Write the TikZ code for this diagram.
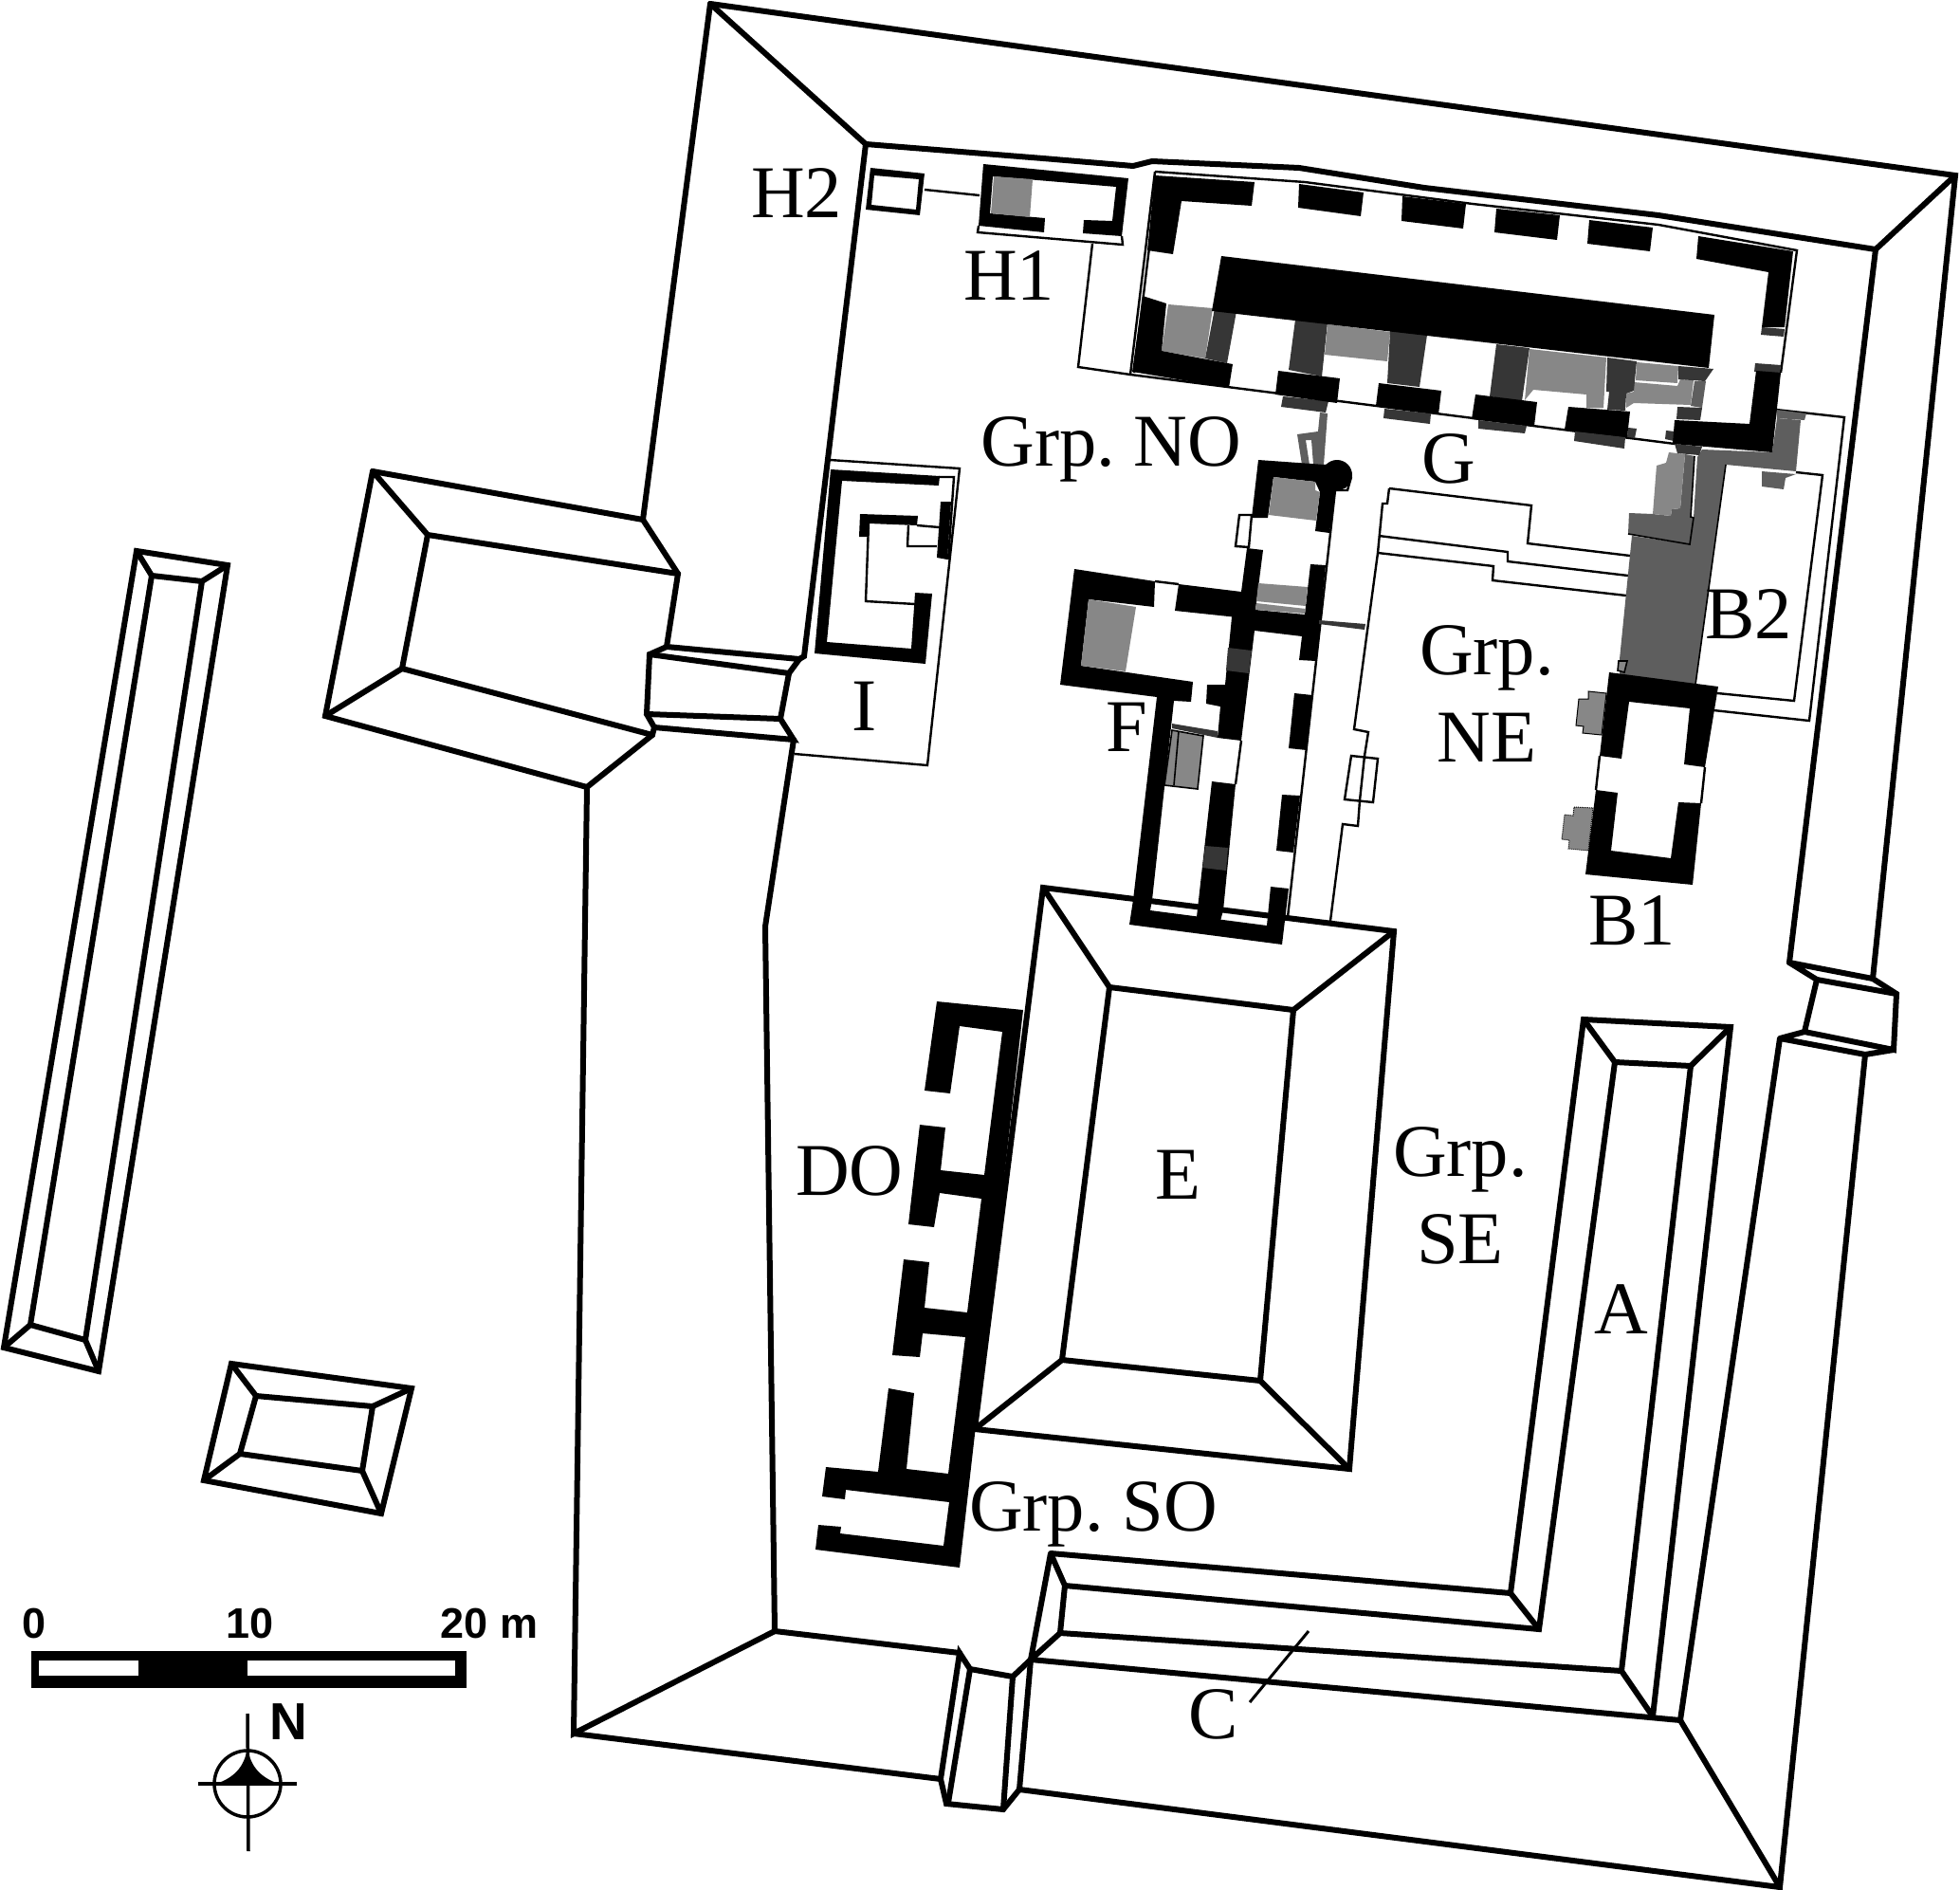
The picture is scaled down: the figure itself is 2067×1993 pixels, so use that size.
\documentclass[tikz,border=0pt]{standalone}
\usepackage{fontspec}
\setmainfont{Liberation Serif}
\newfontfamily\barfont{Liberation Sans}
\frenchspacing
\definecolor{gl}{gray}{0.53}
\definecolor{gm}{gray}{0.37}
\definecolor{gd}{gray}{0.21}
\tikzset{
  wall/.style={line width=6pt,line join=miter,miter limit=3,line cap=round},
  thin/.style={line width=2.4pt,line join=miter},
  blk/.style={fill=black,draw=none},
  lite/.style={fill=gl,draw=none},
  med/.style={fill=gm,draw=none},
  dark/.style={fill=gd,draw=none},
  lab/.style={font=\fontsize{78.5}{92}\selectfont,align=center,inner sep=0pt},
  scalelab/.style={font=\barfont\bfseries\fontsize{45}{45}\selectfont,inner sep=0pt}
}
\begin{document}
\begin{tikzpicture}[x=1pt,y=-1pt]
\useasboundingbox (0,0) rectangle (2067,1993);
\fill[white] (0,0) rectangle (2067,1993);

% ---------- enclosure walls
\draw[wall] (749,4) -- (2062,185) -- (1975,1032);
\draw[wall] (749,4) -- (678,548);
\draw[wall] (2062,185) -- (1978,263);
\draw[wall] (749,4) -- (913,152);
% inner north wall
\draw[wall] (913,152) -- (1100,167) -- (1195,175) -- (1215,170) -- (1370,177) -- (1502,198) -- (1749,227) -- (1978,263) -- (1887,1015);
% west side
\draw[wall] (913,152) -- (848,692) -- (843,695);
\draw[wall] (619,830) -- (605,1828) -- (817,1720) -- (807,977) -- (837,780);
\draw[wall] (817,1720) -- (1012,1743);
\draw[wall] (605,1828) -- (992,1876);
% west gate
\draw[wall] (678,548) -- (715,605) -- (703,682) -- (685,690) -- (682,753) -- (690,767) -- (688,775) -- (619,830);
\draw[wall] (703,682) -- (843,695) -- (832,710) -- (685,690);
\draw[wall] (832,710) -- (823,758) -- (682,753);
\draw[wall] (823,758) -- (837,780) -- (690,767);
% west building
\draw[wall] (393,497) -- (678,548);
\draw[wall] (451,564) -- (715,605);
\draw[wall] (393,497) -- (451,564) -- (424,705) -- (688,775);
\draw[wall] (393,497) -- (343,755) -- (619,830);
\draw[wall] (343,755) -- (424,705);
% east gate
\draw[wall] (1887,1015) -- (1975,1032) -- (2000,1048) -- (1997,1107) -- (1903,1088) -- (1916,1033) -- (1887,1015);
\draw[wall] (1916,1033) -- (2000,1048);
\draw[wall] (1903,1088) -- (1877,1095) -- (1967,1112) -- (1997,1107);
% south and east
\draw[wall] (1967,1112) -- (1877,1990) -- (1075,1887) -- (1058,1908) -- (998,1902) -- (992,1876) -- (1012,1743) -- (1023,1760) -- (1068,1768) -- (1087,1750) -- (1772,1814) -- (1877,1990);
\draw[wall] (1877,1095) -- (1772,1814);
% south gate
\draw[wall] (1023,1760) -- (1000,1901);
\draw[wall] (1068,1768) -- (1058,1908);
\draw[wall] (1087,1750) -- (1075,1887);
% A / C
\draw[wall] (1108,1638) -- (1593,1680) -- (1670,1075) -- (1825,1083) -- (1743,1810);
\draw[wall] (1123,1672) -- (1623,1718) -- (1703,1120) -- (1783,1124) -- (1710,1762) -- (1118,1722) -- (1123,1672) -- (1108,1638) -- (1087,1750) -- (1118,1722);
\draw[wall] (1670,1075) -- (1703,1120);
\draw[wall] (1825,1083) -- (1783,1124);
\draw[wall] (1593,1680) -- (1623,1718);
\draw[wall] (1710,1762) -- (1743,1810);
% E
\draw[wall] (1100,936) -- (1470,982) -- (1423,1549) -- (1028,1507) -- cycle;
\draw[wall] (1170,1041) -- (1364,1065) -- (1329,1456) -- (1120,1434) -- cycle;
\draw[wall] (1100,936) -- (1170,1041);
\draw[wall] (1470,982) -- (1364,1065);
\draw[wall] (1423,1549) -- (1329,1456);
\draw[wall] (1028,1507) -- (1120,1434);
% western detached buildings
\draw[wall] (144,581) -- (240,596) -- (104,1446) -- (4,1421) -- cycle;
\draw[wall] (160,607) -- (213,613) -- (90,1413) -- (32,1397) -- cycle;
\draw[wall] (144,581) -- (160,607);
\draw[wall] (240,596) -- (213,613);
\draw[wall] (104,1446) -- (90,1413);
\draw[wall] (4,1421) -- (32,1397);
\draw[wall] (244,1438) -- (434,1464) -- (402,1596) -- (215,1561) -- cycle;
\draw[wall] (270,1472) -- (393,1483) -- (382,1551) -- (253,1533) -- cycle;
\draw[wall] (244,1438) -- (270,1472);
\draw[wall] (434,1464) -- (393,1483);
\draw[wall] (402,1596) -- (382,1551);
\draw[wall] (215,1561) -- (253,1533);

% ---------- thin precinct lines
\draw[thin] (1218,181) -- (1376,192) -- (1553,215) -- (1749,237) -- (1895,264) -- (1878,393);
\draw[thin] (1221,187) -- (1196,393);
\draw[thin] (1218,181) -- (1192,395) -- (1766,468);
\draw[thin] (1152,257) -- (1137,387) -- (1192,395);
\draw[thin] (975,200) -- (1033,206);
\draw[thin] (1032,238) -- (1031,245) -- (1184,258) -- (1183,249);
\draw[thin] (1873,432) -- (1945,440) -- (1908,760) -- (1807,749);
\draw[thin] (1894,498) -- (1922,501) -- (1892,739) -- (1811,731);
\draw[thin] (1465,515) -- (1615,533) -- (1611,573) -- (1719,586);
\draw[thin] (1465,515) -- (1463,531) -- (1458,531) -- (1453,583) -- (1428,769) -- (1443,772) -- (1439,797);
\draw[thin] (1425,797) -- (1453,800) -- (1448,846) -- (1418,843) -- cycle;
\draw[thin] (1439,797) -- (1434,844) -- (1432,871) -- (1416,869) -- (1403,971);
\draw[thin] (1454,565) -- (1590,582) -- (1590,592) -- (1717,607);
\draw[thin] (1453,583) -- (1575,597) -- (1574,612) -- (1715,628);
\draw[thin] (1408,517) -- (1358,967);
\draw[thin] (1307,543) -- (1320,543) -- (1317,577) -- (1303,576) -- cycle;
\draw[thin] (1408,517) -- (1421,517) -- (1425,503);
\draw[thin] (875,485) -- (1012,494) -- (978,807) -- (838,795);
\draw[thin] (990,503) -- (1006,503) -- (1000,590);
\draw[thin] (916,552) -- (913,634) -- (965,637);
\draw[thin] (958,554) -- (957,576) -- (988,576);
\draw[thin] (967,554) -- (990,556);
\draw[thin] (1218,613) -- (1243,616);
\draw[thin] (1309,781) -- (1303,827);
\draw[thin] (1687,797) -- (1683,833);
\draw[thin] (1798,809) -- (1794,847);
\coordinate (leadA) at (1380,1720);
\coordinate (leadB) at (1318,1795);
\draw[line width=3pt] (leadA) -- (leadB);

% ---------- medium/light grey remains, B2
\fill[med] (1795,474) -- (1869,477) -- (1874,441) -- (1899,443) -- (1894,497) -- (1820,490) -- (1788,722) -- (1708,712) -- (1708,695) -- (1721,565) -- (1782,574) -- (1786,546) -- (1790,482) -- cycle;
\fill[gm] (1718,541) -- (1743,542) -- (1762,544) -- (1763,537) -- (1772,536) -- (1777,479) -- (1787,481) -- (1783,545) -- (1786,546) -- (1782,574) -- (1717,563) -- cycle;
\draw[line width=1.6pt] (1787,481) -- (1783,545) -- (1786,546) -- (1782,574) -- (1717,563);
\fill[lite] (1747,491) -- (1757,488) -- (1760,477) -- (1777,479) -- (1772,536) -- (1763,537) -- (1762,544) -- (1743,542) -- cycle;
\fill[med] (1873,432) -- (1905,436) -- (1903,443) -- (1874,441) -- cycle;
\fill[med] (1858,497) -- (1894,500) -- (1883,504) -- (1881,516) -- (1858,513) -- cycle;
\draw[line width=1.6pt,fill=gl] (1707,697) -- (1716,697) -- (1713,709) -- (1706,707) -- cycle;
\draw[line width=1.6pt] (1820,490) -- (1788,722);

% G greys
\fill[lite] (1232,321) -- (1279,325) -- (1271,378) -- (1225,370) -- cycle;
\fill[dark] (1281,325) -- (1304,328) -- (1294,383) -- (1271,378) -- cycle;
\fill[dark] (1366,337) -- (1400,340) -- (1394,397) -- (1359,390) -- cycle;
\fill[lite] (1400,342) -- (1466,350) -- (1463,381) -- (1397,374) -- cycle;
\fill[dark] (1466,349) -- (1505,353) -- (1497,408) -- (1463,404) -- cycle;
\fill[dark] (1578,363) -- (1613,367) -- (1605,423) -- (1571,418) -- cycle;
\fill[lite] (1613,368) -- (1694,377) -- (1691,430) -- (1673,430) -- (1673,416) -- (1617,411) -- (1608,422) -- cycle;
\fill[lite] (1726,382) -- (1770,386) -- (1769,404) -- (1725,401) -- cycle;
\fill[lite] (1723,403) -- (1769,407) -- (1772,400) -- (1786,401) -- (1783,427) -- (1723,425) -- (1715,430) -- (1715,415) -- (1723,413) -- cycle;
\fill[dark] (1695,377) -- (1726,381) -- (1723,412) -- (1715,415) -- (1714,433) -- (1695,432) -- (1697,413) -- (1694,413) -- cycle;
\fill[gm] (1787,402) -- (1799,402) -- (1795,430) -- (1783,428) -- cycle;
\fill[dark] (1770,386) -- (1807,389) -- (1798,402) -- (1770,400) -- cycle;
\fill[dark] (1769,429) -- (1795,430) -- (1793,443) -- (1768,442) -- cycle;
\fill[dark] (1353,418) -- (1401,423) -- (1398,435) -- (1351,429) -- cycle;
\fill[dark] (1460,431) -- (1509,436) -- (1508,447) -- (1459,441) -- cycle;
\fill[dark] (1559,443) -- (1610,449) -- (1608,457) -- (1559,452) -- cycle;
\fill[dark] (1661,455) -- (1714,461) -- (1713,473) -- (1660,465) -- cycle;
\fill[dark] (1717,451) -- (1726,452) -- (1724,462) -- (1716,461) -- cycle;
\fill[dark] (1757,454) -- (1766,455) -- (1765,465) -- (1756,463) -- cycle;
\fill[dark] (1766,468) -- (1795,471) -- (1792,480) -- (1769,478) -- cycle;
\fill[dark] (1858,345) -- (1882,347) -- (1881,355) -- (1857,353) -- cycle;
\fill[dark] (1851,383) -- (1878,385) -- (1877,394) -- (1850,392) -- cycle;

% G black
\fill[blk] (1218,185) -- (1323,192) -- (1320,217) -- (1246,212) -- (1237,268) -- (1210,264) -- cycle;
\fill[blk] (1370,194) -- (1438,203) -- (1435,228) -- (1369,219) -- cycle;
\fill[blk] (1479,207) -- (1546,215) -- (1543,241) -- (1478,233) -- cycle;
\fill[blk] (1578,220) -- (1645,227) -- (1642,253) -- (1576,245) -- cycle;
\fill[blk] (1676,232) -- (1743,240) -- (1740,265) -- (1674,257) -- cycle;
\fill[blk] (1791,249) -- (1891,265) -- (1882,345) -- (1858,345) -- (1865,287) -- (1789,273) -- cycle;
\fill[blk] (1288,270) -- (1808,332) -- (1802,388) -- (1278,328) -- cycle;
\fill[blk] (1205,312) -- (1230,320) -- (1225,370) -- (1300,384) -- (1296,409) -- (1194,392) -- cycle;
\fill[blk] (1348,391) -- (1413,399) -- (1410,425) -- (1345,416) -- cycle;
\fill[blk] (1454,404) -- (1520,412) -- (1517,437) -- (1451,428) -- cycle;
\fill[blk] (1556,416) -- (1621,424) -- (1618,449) -- (1552,442) -- cycle;
\fill[blk] (1654,429) -- (1719,434) -- (1716,461) -- (1650,453) -- cycle;
\fill[blk] (1766,443) -- (1845,447) -- (1852,391) -- (1878,393) -- (1869,477) -- (1764,468) -- cycle;

% H buildings
\fill[blk,even odd rule] (918,177) -- (975,183) -- (970,227) -- (913,221) -- cycle (922,185) -- (969,189) -- (966,221) -- (919,216) -- cycle;
\fill[blk] (1037,173) -- (1190,188) -- (1183,249) -- (1142,246) -- (1143,232) -- (1173,233) -- (1177,197) -- (1047,186) -- (1044,225) -- (1102,230) -- (1101,245) -- (1032,238) -- cycle;
\fill[lite] (1048,186) -- (1089,189) -- (1086,229) -- (1045,225) -- cycle;

% I building
\fill[blk] (876,495) -- (991,502) -- (990,512) -- (888,507) -- (872,677) -- (961,684) -- (965,625) -- (983,626) -- (976,700) -- (859,689) -- cycle;
\fill[blk] (907,542) -- (968,544) -- (967,554) -- (916,552) -- (915,566) -- (906,566) -- cycle;
\fill[blk] (992,529) -- (1003,529) -- (999,590) -- (988,588) -- cycle;

% north stair
\fill[gm,even odd rule] (1368,458) -- (1390,455) -- (1392,435) -- (1400,436) -- (1396,490) -- (1385,490) -- (1383,464) -- (1377,464) -- (1381,490) -- (1373,490) -- cycle;

% F complex
\fill[blk] (1327,485) -- (1397,490) -- (1412,487) -- (1420,514) -- (1408,517) -- (1402,562) -- (1387,560) -- (1392,519) -- (1387,508) -- (1343,503) -- (1337,546) -- (1320,546) -- cycle;
\fill[blk] (1410,501) circle[radius=16];
\fill[lite] (1343,503) -- (1387,508) -- (1387,517) -- (1392,519) -- (1388,549) -- (1338,543) -- cycle;
\fill[blk] (1133,600) -- (1218,613) -- (1217,640) -- (1148,632) -- (1140,702) -- (1258,719) -- (1256,740) -- (1238,739) -- (1215,949) -- (1213,960) -- (1336,976) -- (1340,935) -- (1359,937) -- (1352,996) -- (1191,975) -- (1195,949) -- (1220,735) -- (1118,722) -- cycle;
\fill[blk] (1243,616) -- (1309,624) -- (1305,651) -- (1239,644) -- cycle;
\fill[blk] (1315,578) -- (1332,580) -- (1324,643) -- (1376,648) -- (1382,595) -- (1398,596) -- (1388,697) -- (1370,696) -- (1373,671) -- (1323,665) -- (1309,781) -- (1284,778) -- (1287,745) -- (1272,742) -- (1273,722) -- (1292,722) -- (1299,651) -- (1309,624) -- cycle;
\fill[dark] (1295,683) -- (1320,686) -- (1317,710) -- (1293,707) -- cycle;
\fill[lite] (1327,615) -- (1379,619) -- (1377,639) -- (1325,634) -- cycle;
\fill[lite] (1325,636) -- (1377,642) -- (1376,647) -- (1324,643) -- cycle;
\fill[blk] (1278,824) -- (1303,827) -- (1290,960) -- (1287,971) -- (1262,967) -- cycle;
\fill[dark] (1271,892) -- (1295,894) -- (1293,918) -- (1268,915) -- cycle;
\fill[blk] (1365,731) -- (1384,733) -- (1378,791) -- (1359,789) -- cycle;
\fill[blk] (1352,838) -- (1371,839) -- (1364,899) -- (1346,897) -- cycle;
\fill[lite] (1148,632) -- (1198,640) -- (1187,708) -- (1140,702) -- cycle;
\fill[dark] (1236,763) -- (1284,771) -- (1284,778) -- (1236,768) -- cycle;
\draw[line width=1.6pt,fill=gl] (1236,770) -- (1269,776) -- (1263,832) -- (1228,828) -- cycle;
\draw[line width=1.6pt] (1243,771) -- (1238,828);
\fill[dark] (1391,654) -- (1440,658) -- (1439,664) -- (1391,658) -- cycle;

% B1
\fill[blk] (1697,709) -- (1812,724) -- (1798,809) -- (1776,806) -- (1782,747) -- (1718,740) -- (1710,800) -- (1687,797) -- cycle;
\fill[blk] (1683,833) -- (1706,836) -- (1699,897) -- (1762,905) -- (1770,846) -- (1794,847) -- (1785,933) -- (1672,922) -- cycle;
\draw[line width=1pt,fill=gl] (1675,729) -- (1694,731) -- (1689,775) -- (1669,773) -- (1670,766) -- (1662,765) -- (1665,737) -- (1675,737) -- cycle;
\draw[line width=1pt,densely dotted,fill=gl] (1660,851) -- (1680,852) -- (1675,897) -- (1654,895) -- (1655,886) -- (1647,885) -- (1650,859) -- (1659,860) -- cycle;

% DO
\fill[blk] (988,1056) -- (1079,1065) -- (1012,1653) -- (860,1634) -- (863,1608) -- (887,1610) -- (886,1617) -- (995,1630) -- (1001,1584) -- (892,1571) -- (891,1581) -- (867,1578) -- (871,1547) -- (926,1552) -- (937,1464) -- (964,1469) -- (956,1549) -- (1000,1554) -- (1018,1410) -- (973,1406) -- (970,1431) -- (941,1429) -- (953,1328) -- (980,1331) -- (975,1379) -- (1020,1384) -- (1035,1264) -- (991,1258) -- (985,1294) -- (958,1291) -- (970,1186) -- (997,1189) -- (992,1234) -- (1038,1239) -- (1057,1088) -- (1012,1082) -- (1002,1153) -- (975,1150) -- cycle;

% ---------- labels
\node[lab] (h2) at (840,204) {H2};
\node[lab] (h1) at (1064,291) {H1};
\node[lab] (grpno) at (1172,474) {Grp. NO};
\node[lab] (g) at (1528,484) {G};
\node[lab] (b2) at (1844,648) {B2};
\node[lab] (grpne) at (1568,732) {Grp.\\NE};
\node[lab] (f) at (1188,767) {F};
\node[lab] (i) at (912,745) {I};
\node[lab] (b1) at (1721,971) {B1};
\node[lab] (do) at (896,1235) {DO};
\node[lab] (e) at (1242,1239) {E};
\node[lab] (grpse) at (1540,1261) {Grp.\\SE};
\node[lab] (a) at (1710,1381) {A};
\node[lab] (grpso) at (1153,1597) {Grp. SO};
\node[lab] (c) at (1280,1808) {C};

% ---------- scale
\fill[black] (33,1741) rectangle (492,1780);
\fill[white] (41,1751) rectangle (146,1767);
\fill[white] (261,1751) rectangle (480,1767);
\node[scalelab] (s0) at (36,1712) {0};
\node[scalelab] (s10) at (264,1712) {10};
\node[scalelab] (s20) at (516,1712) {20 m};
\node[font=\barfont\bfseries\fontsize{55}{55}\selectfont,inner sep=0pt] (north) at (304,1816) {N};

% ---------- compass
\coordinate (cc) at (261,1881);
\draw[line width=3.5pt] (cc) circle[radius=35];
\draw[line width=3.5pt] (261,1807) -- (262,1952);
\draw[line width=3.5pt] (209,1881) -- (313,1881);
\fill[black] (261,1842) .. controls (258,1865) and (245,1875) .. (228,1881) -- (294,1881) .. controls (277,1875) and (264,1865) .. (261,1842) -- cycle;
\end{tikzpicture}
\end{document}
